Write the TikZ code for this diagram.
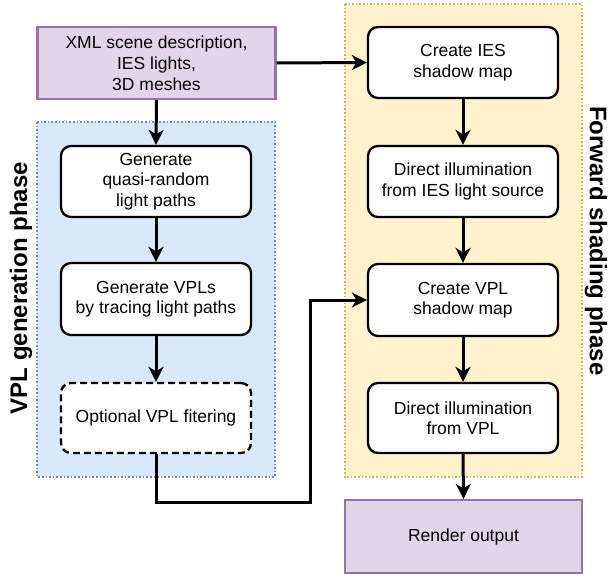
\documentclass[tikz,border=0pt]{standalone}
\usepackage{fontspec}
\setmainfont{Liberation Sans}
\usetikzlibrary{arrows.meta,positioning}

\definecolor{blueFill}{HTML}{DAE8FC}
\definecolor{blueLine}{HTML}{6C8EBF}
\definecolor{yellowFill}{HTML}{FFF2CC}
\definecolor{yellowLine}{HTML}{D6B656}
\definecolor{purpleFill}{HTML}{E1D5E7}
\definecolor{purpleLine}{HTML}{9673A6}

\tikzset{
  phase/.style={line width=1.6pt, dotted},
  stepbox/.style={draw=black, fill=white, line width=2.3pt, rounded corners=10pt,
    minimum width=190pt, minimum height=71pt, align=center,
    font=\fontsize{17.5}{20.5}\selectfont},
  optbox/.style={stepbox, dash pattern=on 7pt off 4pt},
  iobox/.style={draw=purpleLine, fill=purpleFill, line width=2.3pt,
    minimum width=238pt, minimum height=72pt, align=center,
    font=\fontsize{17.5}{21}\selectfont},
  flow/.style={line width=3pt, -{Stealth[length=15pt,width=15pt,inset=4.5pt]}},
  phaselabel/.style={font=\fontsize{24}{28}\selectfont\bfseries}
}

\begin{document}
\begin{tikzpicture}[x=1pt,y=-1pt]
  \useasboundingbox (0,0) rectangle (610,575);

  % phase regions
  \draw[phase, draw=blueLine, fill=blueFill] (37,122) rectangle (275,477);
  \draw[phase, draw=yellowLine, fill=yellowFill] (345,4) rectangle (582,477);

  % phase titles
  \node[phaselabel, rotate=90] (genlabel) at (21,288) {VPL generation phase};
  \node[phaselabel, rotate=-90] (fwdlabel) at (596,241) {Forward shading phase};

  % input and output
  \node[iobox] (xml) at (156.5,63) {XML scene description,\\IES lights,\\3D meshes};
  \node[iobox, minimum width=237pt, minimum height=73pt] (render) at (463.5,536.5) {Render output};

  % VPL generation steps
  \node[stepbox] (paths) at (156,181.5) {Generate\\quasi-random\\light paths};
  \node[stepbox, minimum height=72pt] (vpls) at (156,299) {Generate VPLs\\by tracing light paths};
  \node[optbox, minimum height=70pt] (filter) at (156,418) {Optional VPL fitering};

  % forward shading steps
  \node[stepbox] (iesmap) at (463,62.5) {Create IES\\shadow map};
  \node[stepbox] (iesdirect) at (463,181.5) {Direct illumination\\from IES light source};
  \node[stepbox, minimum height=72pt] (vplmap) at (463,300) {Create VPL\\shadow map};
  \node[stepbox, minimum height=70pt] (vpldirect) at (463,418) {Direct illumination\\from VPL};

  % connectors
  \coordinate (bendlow) at (310,502);
  \draw[flow] (xml.south) -- (paths.north);
  \draw[flow] (paths.south) -- (vpls.north);
  \draw[flow] (vpls.south) -- (filter.north);
  \draw[flow] (xml.east) -- (iesmap.west);
  \draw[flow] (iesmap.south) -- (iesdirect.north);
  \draw[flow] (iesdirect.south) -- (vplmap.north);
  \draw[flow] (vplmap.south) -- (vpldirect.north);
  \draw[flow] (vpldirect.south) -- (render.north);
  \draw[flow] (filter.south) |- (bendlow) |- (vplmap.west);
\end{tikzpicture}
\end{document}
